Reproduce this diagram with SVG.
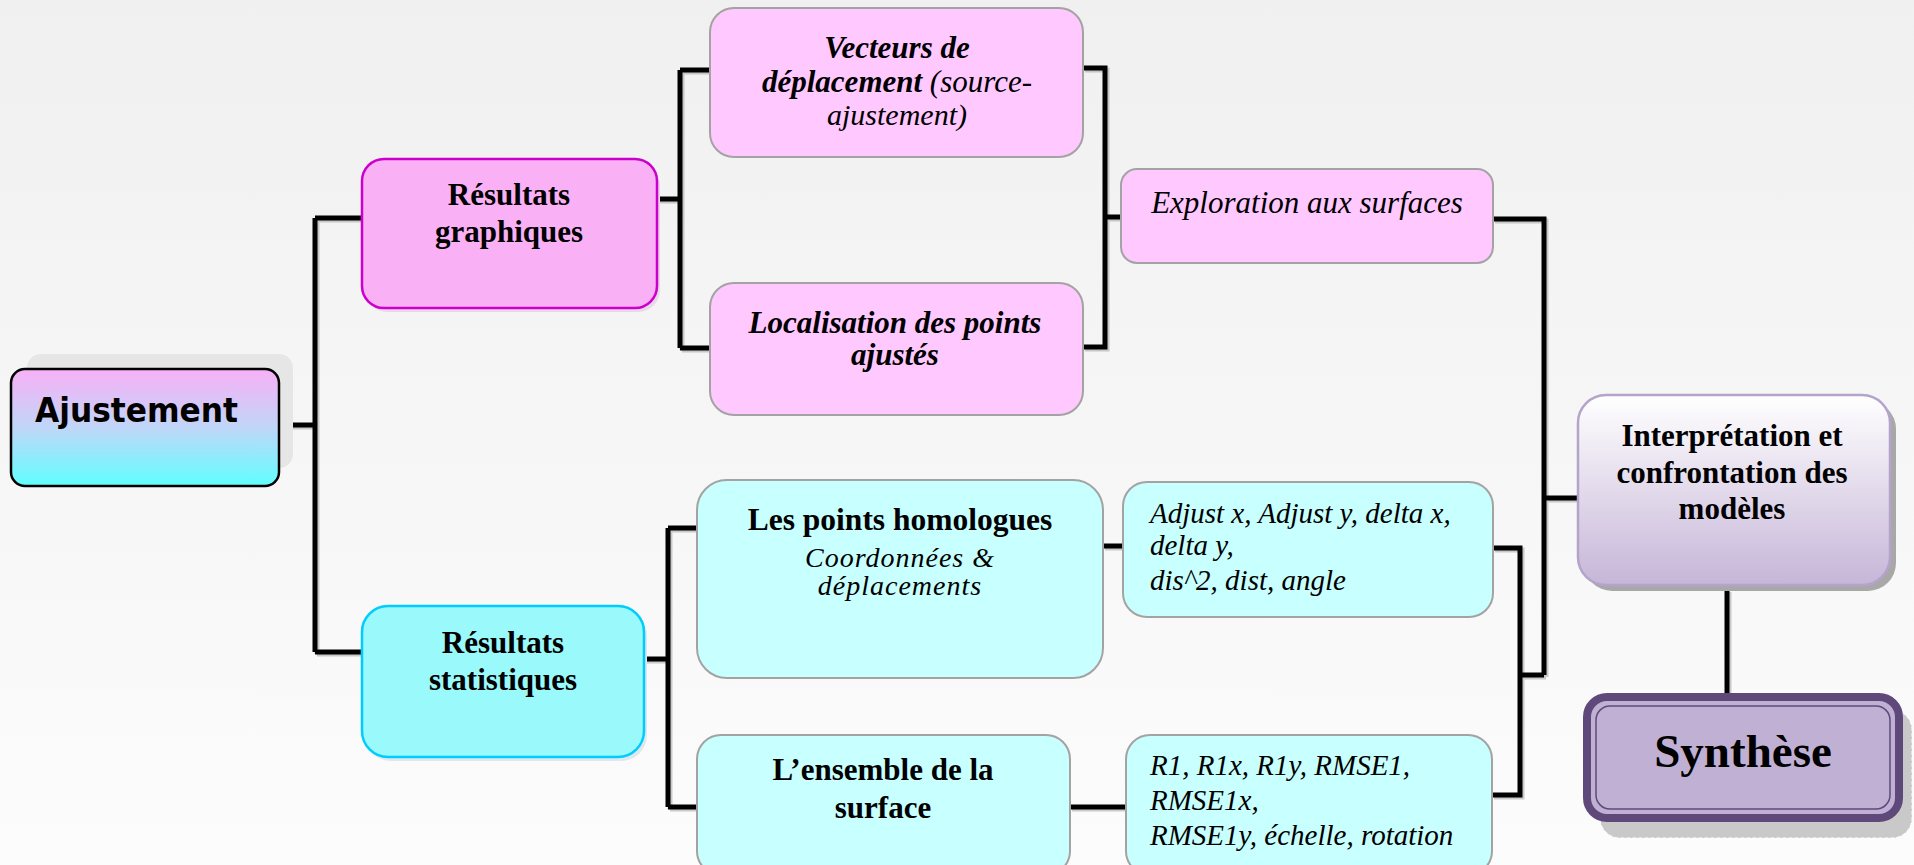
<svg xmlns="http://www.w3.org/2000/svg" width="1914" height="865" viewBox="0 0 1914 865">
<defs>
<linearGradient id="bg" x1="0" y1="0" x2="0" y2="1">
<stop offset="0" stop-color="#f0f0f0"/>
<stop offset="1" stop-color="#fcfcfc"/>
</linearGradient>
<linearGradient id="gAj" x1="0" y1="0" x2="0" y2="1">
<stop offset="0" stop-color="#f8b0f6"/>
<stop offset="0.5" stop-color="#c0d6f8"/>
<stop offset="1" stop-color="#60ffff"/>
</linearGradient>
<linearGradient id="gInt" x1="0" y1="0" x2="0" y2="1">
<stop offset="0" stop-color="#ffffff"/>
<stop offset="1" stop-color="#c6b6d8"/>
</linearGradient>
<style>
.t{font-family:"Liberation Serif","Times New Roman",serif;fill:#000}
.b{font-weight:bold}
.i{font-style:italic}
.c{text-anchor:middle}
.pink{fill:#ffc8ff;stroke:#a3a3a3;stroke-width:2}
.cyan{fill:#c8ffff;stroke:#a3a3a3;stroke-width:2}
.conn{fill:none;stroke:#000;stroke-width:5;stroke-linejoin:miter;stroke-linecap:butt}
.connsh{fill:none;stroke:#9a9a9a;stroke-width:5;opacity:0.5}
</style>
</defs>
<rect x="0" y="0" width="1914" height="865" fill="url(#bg)"/>

<g id="connectors">
<g class="connsh" transform="translate(2,2)">
<path d="M279 425H315M315 218V652M315 218H362M315 652H362"/>
<path d="M657 199H680M680 70V348M680 70H710M680 348H710"/>
<path d="M1083 68H1105V347H1083M1105 217H1121"/>
<path d="M1493 219H1544V675M1544 498H1578"/>
<path d="M644 659H668M668 528V807M668 528H697M668 807H697"/>
<path d="M1103 546H1123M1070 807H1126"/>
<path d="M1493 548H1520V795H1492M1520 675H1544"/>
<path d="M1727 590V695"/>
</g>
<path class="conn" d="M279 425H315M315 218V652M315 218H362M315 652H362"/>
<path class="conn" d="M657 199H680M680 70V348M680 70H710M680 348H710"/>
<path class="conn" d="M1083 68H1105V347H1083M1105 217H1121"/>
<path class="conn" d="M1493 219H1544V675M1544 498H1578"/>
<path class="conn" d="M644 659H668M668 528V807M668 528H697M668 807H697"/>
<path class="conn" d="M1103 546H1123M1070 807H1126"/>
<path class="conn" d="M1493 548H1520V795H1492M1520 675H1544"/>
<path class="conn" d="M1727 590V695"/>
</g>

<g id="ajustement">
<rect x="27" y="354" width="266" height="114" rx="14" fill="#e6e6e6"/>
<rect x="11" y="369" width="268" height="117" rx="14" fill="url(#gAj)" stroke="#000" stroke-width="2.5"/>
<text x="35" y="422" font-family="'DejaVu Sans',Verdana,sans-serif" font-weight="bold" font-size="33" textLength="203" lengthAdjust="spacingAndGlyphs" fill="#000">Ajustement</text>
</g>

<g id="resultats-graphiques">
<rect x="365" y="163" width="295" height="149" rx="22" fill="#ead8ea"/>
<rect x="362" y="159" width="295" height="149" rx="22" fill="#f9b0f4" stroke="#cc00cc" stroke-width="2.5"/>
<text class="t b c" font-size="31" x="509" y="205">Résultats</text>
<text class="t b c" font-size="31" x="509" y="242">graphiques</text>
</g>

<g id="vecteurs">
<rect class="pink" x="710" y="8" width="373" height="149" rx="24"/>
<text class="t b i c" font-size="31" x="897" y="58">Vecteurs de</text>
<text class="t i c" font-size="31" x="897" y="92"><tspan font-weight="bold">déplacement</tspan> (source-</text>
<text class="t i c" font-size="30" x="897" y="125">ajustement)</text>
</g>

<g id="localisation">
<rect class="pink" x="710" y="283" width="373" height="132" rx="24"/>
<text class="t b i c" font-size="31" x="895" y="333">Localisation des points</text>
<text class="t b i c" font-size="31" x="895" y="365">ajustés</text>
</g>

<g id="exploration">
<rect class="pink" x="1121" y="169" width="372" height="94" rx="16"/>
<text class="t i c" font-size="31" x="1307" y="213">Exploration aux surfaces</text>
</g>

<g id="resultats-statistiques">
<rect x="365" y="610" width="282" height="151" rx="26" fill="#dfe8f0"/>
<rect x="362" y="606" width="282" height="151" rx="26" fill="#99f9fb" stroke="#00ccff" stroke-width="2.5"/>
<text class="t b c" font-size="31" x="503" y="653">Résultats</text>
<text class="t b c" font-size="31" x="503" y="690">statistiques</text>
</g>

<g id="points-homologues">
<rect class="cyan" x="697" y="480" width="406" height="198" rx="30"/>
<text class="t b c" font-size="31.5" x="900" y="530">Les points homologues</text>
<text class="t i c" font-size="28" x="900" y="567" letter-spacing="1">Coordonnées &amp;</text>
<text class="t i c" font-size="28" x="900" y="595" letter-spacing="1">déplacements</text>
</g>

<g id="adjust">
<rect class="cyan" x="1123" y="482" width="370" height="135" rx="24"/>
<text class="t i" font-size="29" x="1150" y="523">Adjust x, Adjust y, delta x,</text>
<text class="t i" font-size="29" x="1150" y="555">delta y,</text>
<text class="t i" font-size="29" x="1150" y="590">dis^2, dist, angle</text>
</g>

<g id="ensemble">
<rect class="cyan" x="697" y="735" width="373" height="140" rx="24"/>
<text class="t b c" font-size="31" x="883" y="780">L’ensemble de la</text>
<text class="t b c" font-size="31" x="883" y="818">surface</text>
</g>

<g id="rmse">
<rect class="cyan" x="1126" y="735" width="366" height="140" rx="24"/>
<text class="t i" font-size="29" x="1150" y="775">R1, R1x, R1y, RMSE1,</text>
<text class="t i" font-size="29" x="1150" y="810">RMSE1x,</text>
<text class="t i" font-size="29" x="1150" y="845">RMSE1y, échelle, rotation</text>
</g>

<g id="interpretation">
<rect x="1584" y="401" width="312" height="190" rx="28" fill="#a8a8a8"/>
<rect x="1578" y="395" width="312" height="190" rx="28" fill="url(#gInt)" stroke="#b4a4cc" stroke-width="2.5"/>
<text class="t b c" font-size="31" x="1732" y="446">Interprétation et</text>
<text class="t b c" font-size="31" x="1732" y="483">confrontation des</text>
<text class="t b c" font-size="31" x="1732" y="519">modèles</text>
</g>

<g id="synthese">
<rect x="1600" y="710" width="312" height="128" rx="20" fill="#c9c9c9" stroke="#ffffff" stroke-width="1" stroke-dasharray="4 2"/>
<rect x="1587" y="697" width="312" height="121" rx="20" fill="#bfb0d4" stroke="#5f497a" stroke-width="8"/>
<rect x="1596" y="706" width="294" height="103" rx="14" fill="none" stroke="#5f497a" stroke-width="1.5"/>
<text class="t b c" font-size="47" x="1743" y="767">Synthèse</text>
</g>
</svg>
